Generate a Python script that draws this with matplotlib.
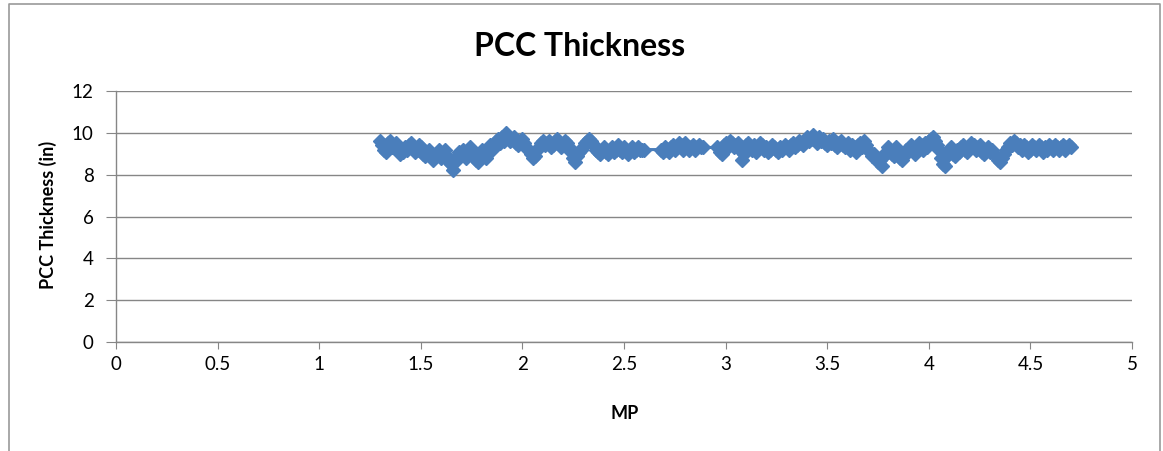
import numpy as np
import matplotlib
matplotlib.use("Agg")
import matplotlib.pyplot as plt
from matplotlib.lines import Line2D

# PCC slab thickness (in), surveyed every 0.01 mile, in three runs of milepost
run1_start, run1_end = 1.30, 2.60
run1_thickness = [
    9.6, 9.4, 9.2, 9.1, 9.5, 9.6, 9.3, 9.4, 9.5, 9.2,
    9.0, 9.1, 9.3, 9.2, 9.4, 9.5, 9.3, 9.1, 9.2, 9.4,
    9.3, 9.0, 8.9, 9.1, 9.2, 8.9, 8.7, 8.9, 9.0, 9.2,
    8.8, 9.0, 9.2, 8.9, 8.6, 8.5, 8.2, 8.6, 8.9, 9.1,
    9.0, 9.2, 8.8, 9.1, 9.3, 9.1, 8.9, 8.7, 8.6, 9.0,
    9.2, 8.9, 8.8, 9.1, 9.4, 9.2, 9.3, 9.6, 9.7, 9.5,
    9.8, 9.6, 10.0, 9.8, 9.6, 9.7, 9.8, 9.5, 9.4, 9.6,
    9.7, 9.5, 9.3, 9.2, 9.0, 8.8, 8.9, 9.2, 9.3, 9.5,
    9.6, 9.4, 9.5, 9.6, 9.3, 9.4, 9.6, 9.7, 9.5, 9.3,
    9.4, 9.6, 9.5, 9.3, 9.1, 8.8, 8.6, 8.9, 9.1, 9.2,
    9.3, 9.5, 9.6, 9.7, 9.6, 9.4, 9.2, 9.1, 9.0, 9.2,
    9.3, 9.1, 9.0, 9.2, 9.3, 9.1, 9.2, 9.4, 9.2, 9.1,
    9.3, 9.2, 9.0, 9.2, 9.3, 9.1, 9.2, 9.3, 9.2, 9.2,
    9.2,
]
run2_start, run2_end = 2.68, 2.89
run2_thickness = [
    9.2, 9.1, 9.3, 9.2, 9.1, 9.3, 9.4, 9.2, 9.3, 9.5,
    9.4, 9.2, 9.5, 9.3, 9.2, 9.3, 9.4, 9.2, 9.3, 9.4,
    9.3, 9.3,
]
run3_start, run3_end = 2.96, 4.70
run3_thickness = [
    9.3, 9.1, 9.0, 9.4, 9.5, 9.3, 9.6, 9.5, 9.3, 9.4,
    9.5, 9.2, 8.7, 9.0, 9.4, 9.5, 9.3, 9.2, 9.4, 9.1,
    9.3, 9.5, 9.4, 9.2, 9.3, 9.1, 9.2, 9.4, 9.3, 9.2,
    9.1, 9.3, 9.2, 9.4, 9.3, 9.2, 9.4, 9.5, 9.3, 9.4,
    9.6, 9.5, 9.4, 9.6, 9.8, 9.6, 9.7, 9.9, 9.7, 9.5,
    9.8, 9.6, 9.7, 9.5, 9.4, 9.6, 9.5, 9.7, 9.4, 9.3,
    9.5, 9.6, 9.4, 9.3, 9.5, 9.2, 9.4, 9.3, 9.1, 9.4,
    9.5, 9.3, 9.6, 9.4, 9.2, 9.1, 8.9, 9.0, 8.8, 8.6,
    8.7, 8.4, 8.9, 9.1, 9.3, 9.2, 9.0, 8.9, 9.3, 9.1,
    8.8, 8.7, 9.0, 9.2, 9.1, 9.4, 9.2, 9.0, 9.3, 9.5,
    9.4, 9.2, 9.5, 9.3, 9.6, 9.7, 9.8, 9.6, 9.4, 9.2,
    8.8, 8.5, 8.4, 8.9, 9.1, 9.3, 9.0, 8.9, 9.2, 9.1,
    9.3, 9.4, 9.2, 9.1, 9.3, 9.5, 9.4, 9.2, 9.3, 9.4,
    9.1, 9.0, 9.2, 9.3, 9.1, 9.2, 9.0, 8.9, 8.7, 8.6,
    8.8, 9.0, 9.2, 9.3, 9.5, 9.4, 9.6, 9.5, 9.3, 9.4,
    9.2, 9.4, 9.3, 9.1, 9.2, 9.4, 9.3, 9.2, 9.4, 9.3,
    9.1, 9.3, 9.2, 9.4, 9.3, 9.2, 9.4, 9.3, 9.2, 9.3,
    9.4, 9.2, 9.3, 9.4, 9.3,
]

x_ticks = [0, 0.5, 1, 1.5, 2, 2.5, 3, 3.5, 4, 4.5, 5]
x_tick_labels = ["0", "0.5", "1", "1.5", "2", "2.5", "3", "3.5", "4", "4.5", "5"]
y_ticks = [0, 2, 4, 6, 8, 10, 12]


def run_positions(start, end, values):
    return np.linspace(start, end, len(values))


mp = np.concatenate([
    run_positions(run1_start, run1_end, run1_thickness),
    run_positions(run2_start, run2_end, run2_thickness),
    run_positions(run3_start, run3_end, run3_thickness),
])
thickness = np.array(run1_thickness + run2_thickness + run3_thickness)

BLUE = "#4A7EBB"
GRID = "#868686"
FONT = ["Lato", "DejaVu Sans"]

W, H = 1163, 451
fig = plt.figure(figsize=(W / 100, H / 100), dpi=100)
fig.patch.set_facecolor("white")

# Outer chart-area frame
fig.add_artist(Line2D([9 / W, 9 / W, 1160 / W, 1160 / W],
                      [-0.1, 1 - 4 / H, 1 - 4 / H, -0.1],
                      transform=fig.transFigure, color="#9a9a9a", lw=1.2))

ax = fig.add_axes([116 / W, 1 - 342 / H, (1132 - 116) / W, (342 - 91) / H])
ax.plot(mp, thickness, color=BLUE, lw=2.2, marker="D", markersize=7,
        markerfacecolor=BLUE, markeredgecolor=BLUE, zorder=3)

ax.set_xlim(0, 5)
ax.set_ylim(0, 12)
ax.set_xticks(x_ticks)
ax.set_xticklabels(x_tick_labels)
ax.set_yticks(y_ticks)

ax.grid(axis="y", color=GRID, lw=1.0)
ax.set_axisbelow(True)
for side in ("top", "right"):
    ax.spines[side].set_visible(False)
for side in ("left", "bottom"):
    ax.spines[side].set_color(GRID)
    ax.spines[side].set_linewidth(1.0)

ax.tick_params(axis="x", direction="out", length=5, color=GRID, pad=5,
               labelsize=13.5)
ax.tick_params(axis="y", direction="out", length=7, color=GRID, pad=9,
               labelsize=13.5)
for lbl in ax.get_xticklabels() + ax.get_yticklabels():
    lbl.set_family(FONT)

fig.text(580 / W, 1 - 47 / H, "PCC Thickness", fontsize=23,
         fontweight="bold", family=FONT, ha="center", va="center")
ax.set_xlabel("MP", fontsize=13, fontweight="bold", family=FONT)
ax.set_ylabel("PCC Thickness (in)", fontsize=13, fontweight="bold",
              family=FONT)
ax.xaxis.set_label_coords((625 - 116) / 1016, (342 - 405) / 251)
ax.yaxis.set_label_coords((57 - 116) / 1016, (342 - 215) / 251)

fig.savefig("out.png", dpi=100)
